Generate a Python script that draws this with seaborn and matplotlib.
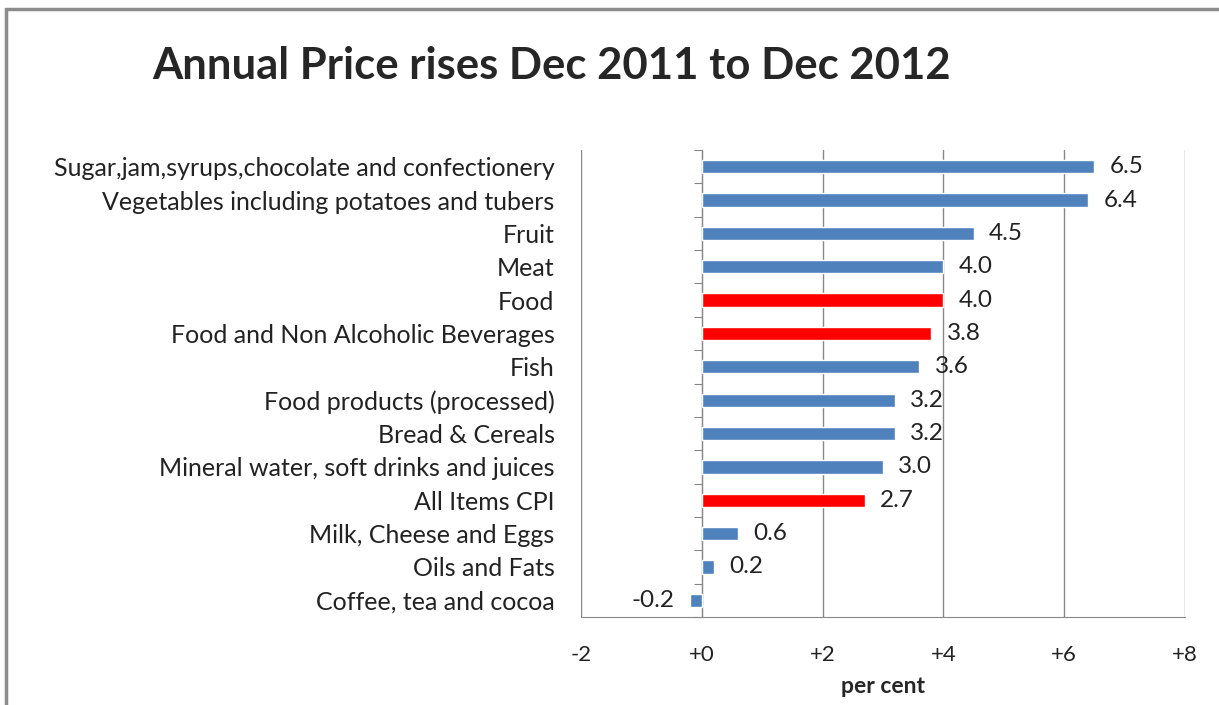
import matplotlib as mpl
mpl.use('Agg')
import matplotlib.pyplot as plt
from matplotlib.patches import Rectangle
import seaborn as sns
import numpy as np
import pandas as pd

# data, top to bottom as in the chart
categories = [
    'Sugar,jam,syrups,chocolate and confectionery',
    'Vegetables including potatoes and tubers',
    'Fruit',
    'Meat',
    'Food',
    'Food and Non Alcoholic Beverages',
    'Fish',
    'Food products (processed)',
    'Bread & Cereals',
    'Mineral water, soft drinks and juices',
    'All Items CPI',
    'Milk, Cheese and Eggs',
    'Oils and Fats',
    'Coffee, tea and cocoa',
]
values = [6.5, 6.4, 4.5, 4.0, 4.0, 3.8, 3.6, 3.2, 3.2, 3.0, 2.7, 0.6, 0.2, -0.2]
groups = ['item', 'item', 'item', 'item', 'aggregate', 'aggregate', 'item',
          'item', 'item', 'item', 'aggregate', 'item', 'item', 'item']
x_ticks = [-2, 0, 2, 4, 6, 8]
x_ticklabels = ['-2', '+0', '+2', '+4', '+6', '+8']

df = pd.DataFrame({'category': categories, 'value': values, 'group': groups})

sns.set_style('white')
plt.rcParams['font.family'] = ['Lato', 'DejaVu Sans']

fig = plt.figure(figsize=(12.19, 7.05), dpi=100)
ax = fig.add_axes([581 / 1219, 88 / 705, 604 / 1219, 467 / 705])

sns.barplot(data=df, y='category', x='value', hue='group', orient='h',
            palette={'item': '#4F81BD', 'aggregate': '#FF0000'},
            dodge=False, width=0.4, legend=False, saturation=1, ax=ax)

for cont in ax.containers:
    ax.bar_label(cont, fmt='%.1f', padding=11, fontsize=17.5, color='#222222')

ax.set_xlim(-2, 8)
ax.set_ylim(len(categories) - 0.5, -0.5)
ax.set_xticks(x_ticks)
ax.set_xticklabels(x_ticklabels, fontsize=16, color='#222222')
ax.tick_params(axis='x', direction='out', length=6, color='#888888', pad=14)
ax.tick_params(axis='y', length=0, pad=19, labelsize=18, labelcolor='#222222')
ax.grid(axis='x', color='#888888', linewidth=1)
ax.grid(axis='y', visible=False)
for s in ['top', 'right', 'left']:
    ax.spines[s].set_visible(False)
ax.spines['bottom'].set_color('#888888')
ax.set_ylabel('')
ax.set_xlabel('per cent', fontsize=16.5, fontweight='bold', labelpad=8)

# axis line at zero with category separators
sec = ax.secondary_yaxis(0.2)
sec.set_yticks(np.arange(-0.5, len(categories), 1))
sec.set_yticklabels([])
sec.tick_params(direction='out', length=6, color='#888888')
sec.spines['left'].set_color('#888888')

fig.text(152 / 1219, 1 - 66 / 705, 'Annual Price rises Dec 2011 to Dec 2012',
         fontsize=31.4, fontweight='bold', ha='left', va='center')

fig.add_artist(Rectangle((6 / 1219, -0.1), 1.2, 696 / 705 + 0.1,
                         transform=fig.transFigure, fill=False,
                         edgecolor='#8c8c8c', linewidth=2.5))

fig.savefig('out.png', dpi=100)
